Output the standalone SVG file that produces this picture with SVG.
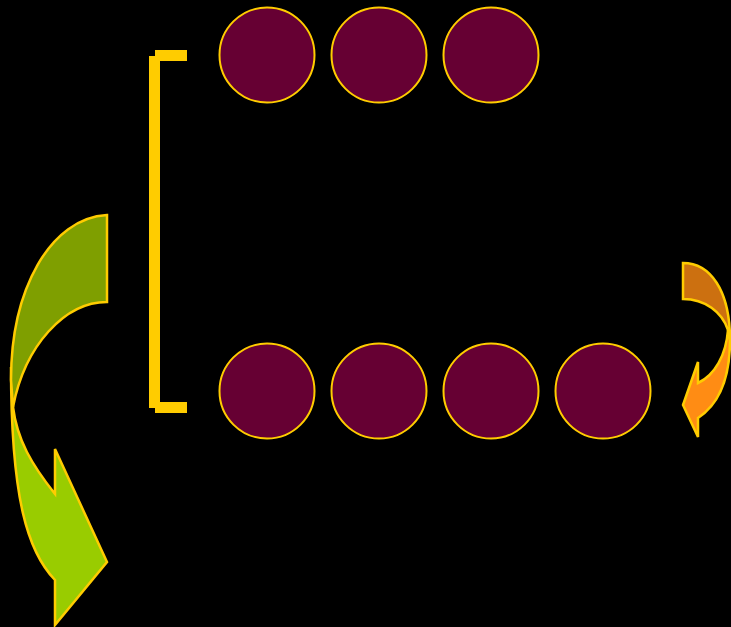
<svg xmlns="http://www.w3.org/2000/svg" width="731" height="627" viewBox="0 0 731 627">
<style>
.c{fill:#660033;stroke:#FFCC00;stroke-width:2}
.a{stroke:#FFCC00;stroke-width:2.5;stroke-linejoin:miter}
.b{fill:#FFCC00}
</style>
<rect width="731" height="627" fill="#000"/>
<g id="bracket">
<rect class="b" x="149" y="56" width="11" height="352"/>
<rect class="b" x="155" y="50" width="32" height="11"/>
<rect class="b" x="155" y="402" width="32" height="11"/>
</g>
<g id="top-row">
<circle class="c" cx="267" cy="55" r="47.5"/>
<circle class="c" cx="379" cy="55" r="47.5"/>
<circle class="c" cx="491" cy="55" r="47.5"/>
</g>
<g id="bottom-row">
<circle class="c" cx="267" cy="391" r="47.5"/>
<circle class="c" cx="379" cy="391" r="47.5"/>
<circle class="c" cx="491" cy="391" r="47.5"/>
<circle class="c" cx="603" cy="391" r="47.5"/>
</g>
<g id="green-arrow">
<path class="a" fill="#99CC00" d="M11,367 C11,500 28,552 55,580 L55,625 L107,562 L55,449 L55,494 C32,465 17,440 13,407 Z"/>
<path class="a" fill="#7F9F00" d="M107,215 C50,218 11,290 11,380 L13,407 C25,345 65,302 107,302 Z"/>
</g>
<g id="orange-arrow">
<path class="a" fill="#FF8C14" d="M730,340 C730,380 718,405 698,418 L698,437 L683,405 L698,362 L698,383 C715,375 726,355 728,330 Z"/>
<path class="a" fill="#CC7010" d="M683,263 C710,263 730,290 730,340 L728,330 C722,312 705,299 683,299 Z"/>
</g>
</svg>
